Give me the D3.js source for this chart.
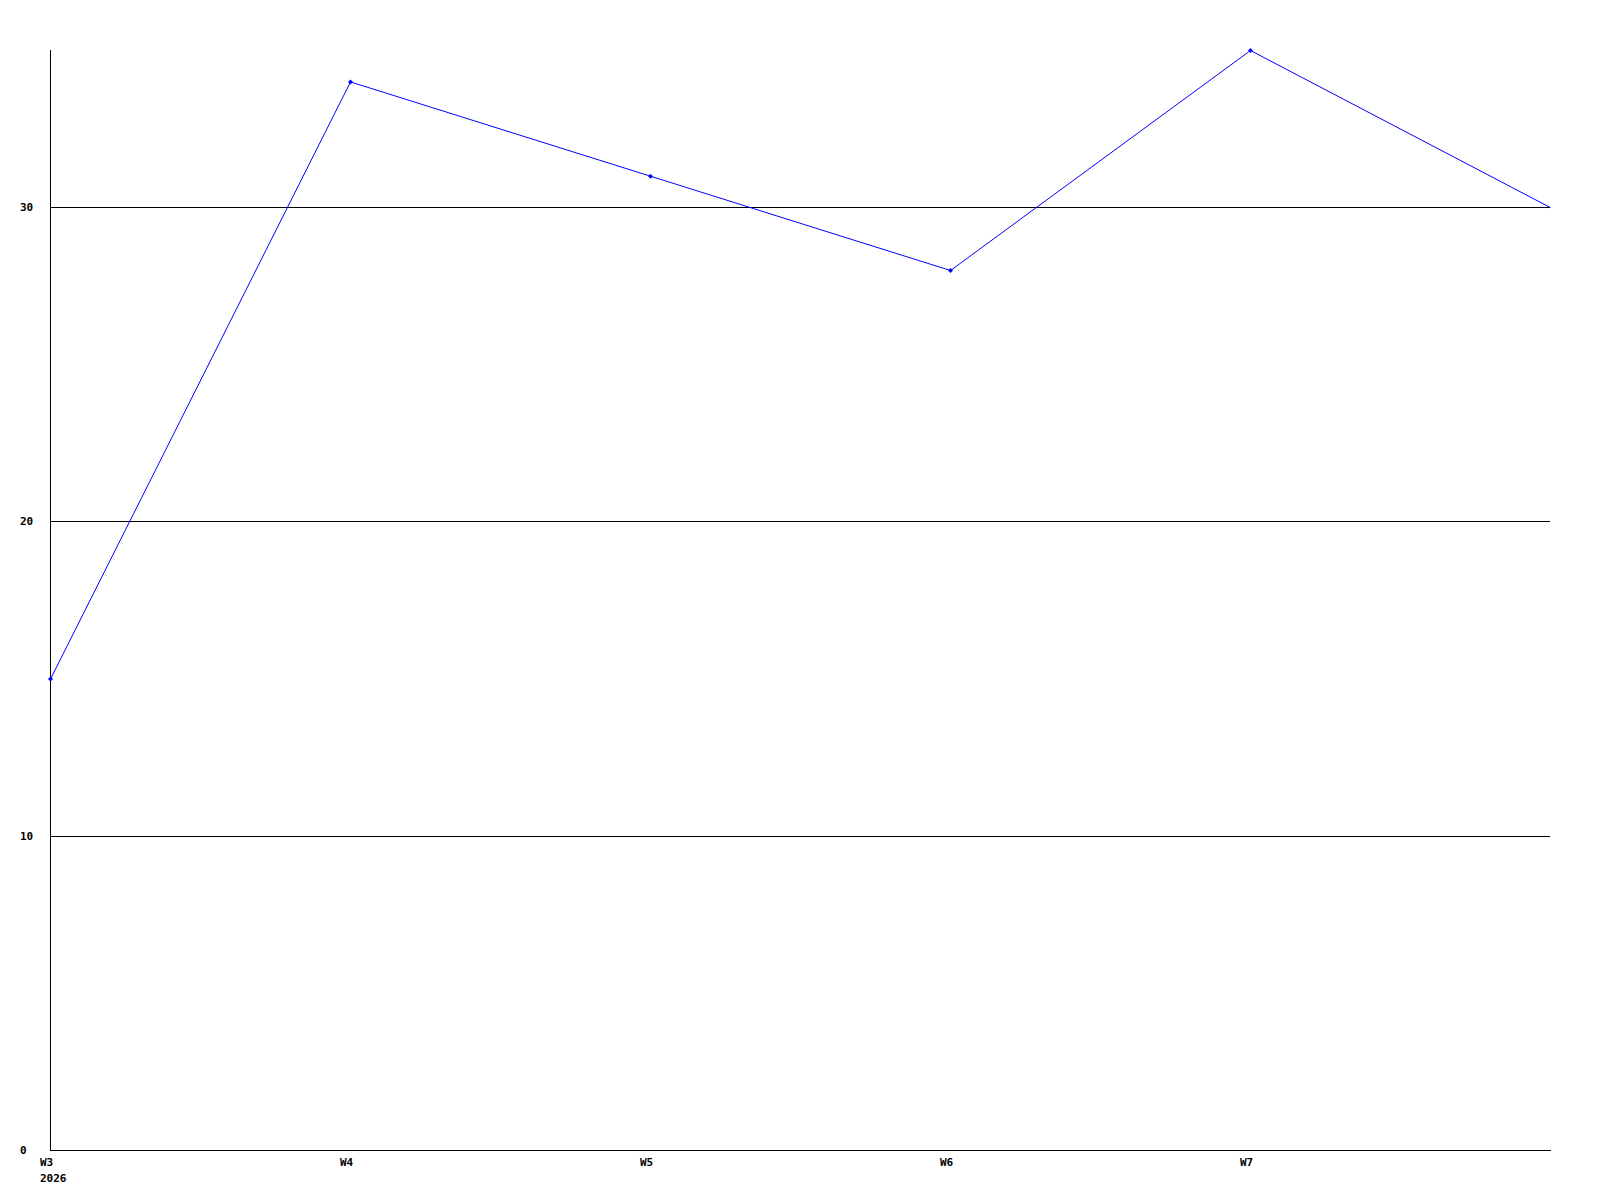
<!DOCTYPE html>
<html>
<head>
<meta charset="utf-8">
<script src="https://cdnjs.cloudflare.com/ajax/libs/d3/7.8.5/d3.min.js"></script>
<style>
  body { margin: 0; background: #fff; }
  text { font-family: "DejaVu Sans Mono", "Liberation Mono", monospace; font-weight: bold; font-size: 11px; fill: #000; }
</style>
</head>
<body>
<div id="chart"></div>
<script>
var weeks = ['W3', 'W4', 'W5', 'W6', 'W7', 'W8'];
var weekLabels = ['W3', 'W4', 'W5', 'W6', 'W7', ''];
var values = [15, 34, 31, 28, 35, 30];
var yTicks = [0, 10, 20, 30];
var yearLabel = '2026';

var width = 1600, height = 1200;
// plot area edges (window.top is reserved, so use own names)
var plotLeft = 50, plotRight = 1550, plotTop = 50, plotBottom = 1150;

var svg = d3.select('#chart')
    .append('svg')
    .attr('width', width)
    .attr('height', height);

var x = d3.scalePoint()
    .domain(weeks)
    .range([plotLeft, plotRight]);

var y = d3.scaleLinear()
    .domain([0, 35])
    .range([plotBottom, plotTop]);

// gridlines
svg.selectAll('.grid')
    .data(yTicks.filter(d => d > 0))
    .enter()
    .append('line')
    .attr('class', 'grid')
    .attr('x1', plotLeft)
    .attr('x2', plotRight)
    .attr('y1', d => Math.round(y(d)) + 0.5)
    .attr('y2', d => Math.round(y(d)) + 0.5)
    .attr('stroke', '#000')
    .attr('stroke-width', 1);

// axes
svg.append('line')
    .attr('x1', plotLeft + 0.5).attr('x2', plotLeft + 0.5)
    .attr('y1', plotTop).attr('y2', plotBottom + 1)
    .attr('stroke', '#000');

svg.append('line')
    .attr('x1', plotLeft).attr('x2', plotRight + 1)
    .attr('y1', plotBottom + 0.5).attr('y2', plotBottom + 0.5)
    .attr('stroke', '#000');

// y labels
svg.selectAll('.ylab')
    .data(yTicks)
    .enter()
    .append('text')
    .attr('class', 'ylab')
    .attr('x', 20)
    .attr('y', d => Math.round(y(d)) + 1)
    .attr('dominant-baseline', 'middle')
    .text(d => d);

// x labels
svg.selectAll('.xlab')
    .data(weeks)
    .enter()
    .append('text')
    .attr('class', 'xlab')
    .attr('x', d => x(d) - 10)
    .attr('y', plotBottom + 13)
    .attr('dominant-baseline', 'middle')
    .text((d, i) => weekLabels[i]);

svg.append('text')
    .attr('x', x(weeks[0]) - 10)
    .attr('y', plotBottom + 29)
    .attr('dominant-baseline', 'middle')
    .text(yearLabel);

// series
var line = d3.line()
    .x((d, i) => x(weeks[i]) + 0.5)
    .y(d => y(d) + 0.5);

svg.append('path')
    .datum(values)
    .attr('d', line)
    .attr('fill', 'none')
    .attr('stroke', '#0000ff')
    .attr('stroke-width', 1);

// markers (the last, unlabelled week has none)
svg.selectAll('.marker')
    .data(values.slice(0, -1))
    .enter()
    .append('path')
    .attr('class', 'marker')
    .attr('transform', (d, i) => 'translate(' + (x(weeks[i]) + 0.5) + ',' + (y(d) + 0.5) + ')')
    .attr('d', 'M-2.5,0L0,-2.5L2.5,0L0,2.5Z')
    .attr('fill', '#0000ff');
</script>
</body>
</html>
